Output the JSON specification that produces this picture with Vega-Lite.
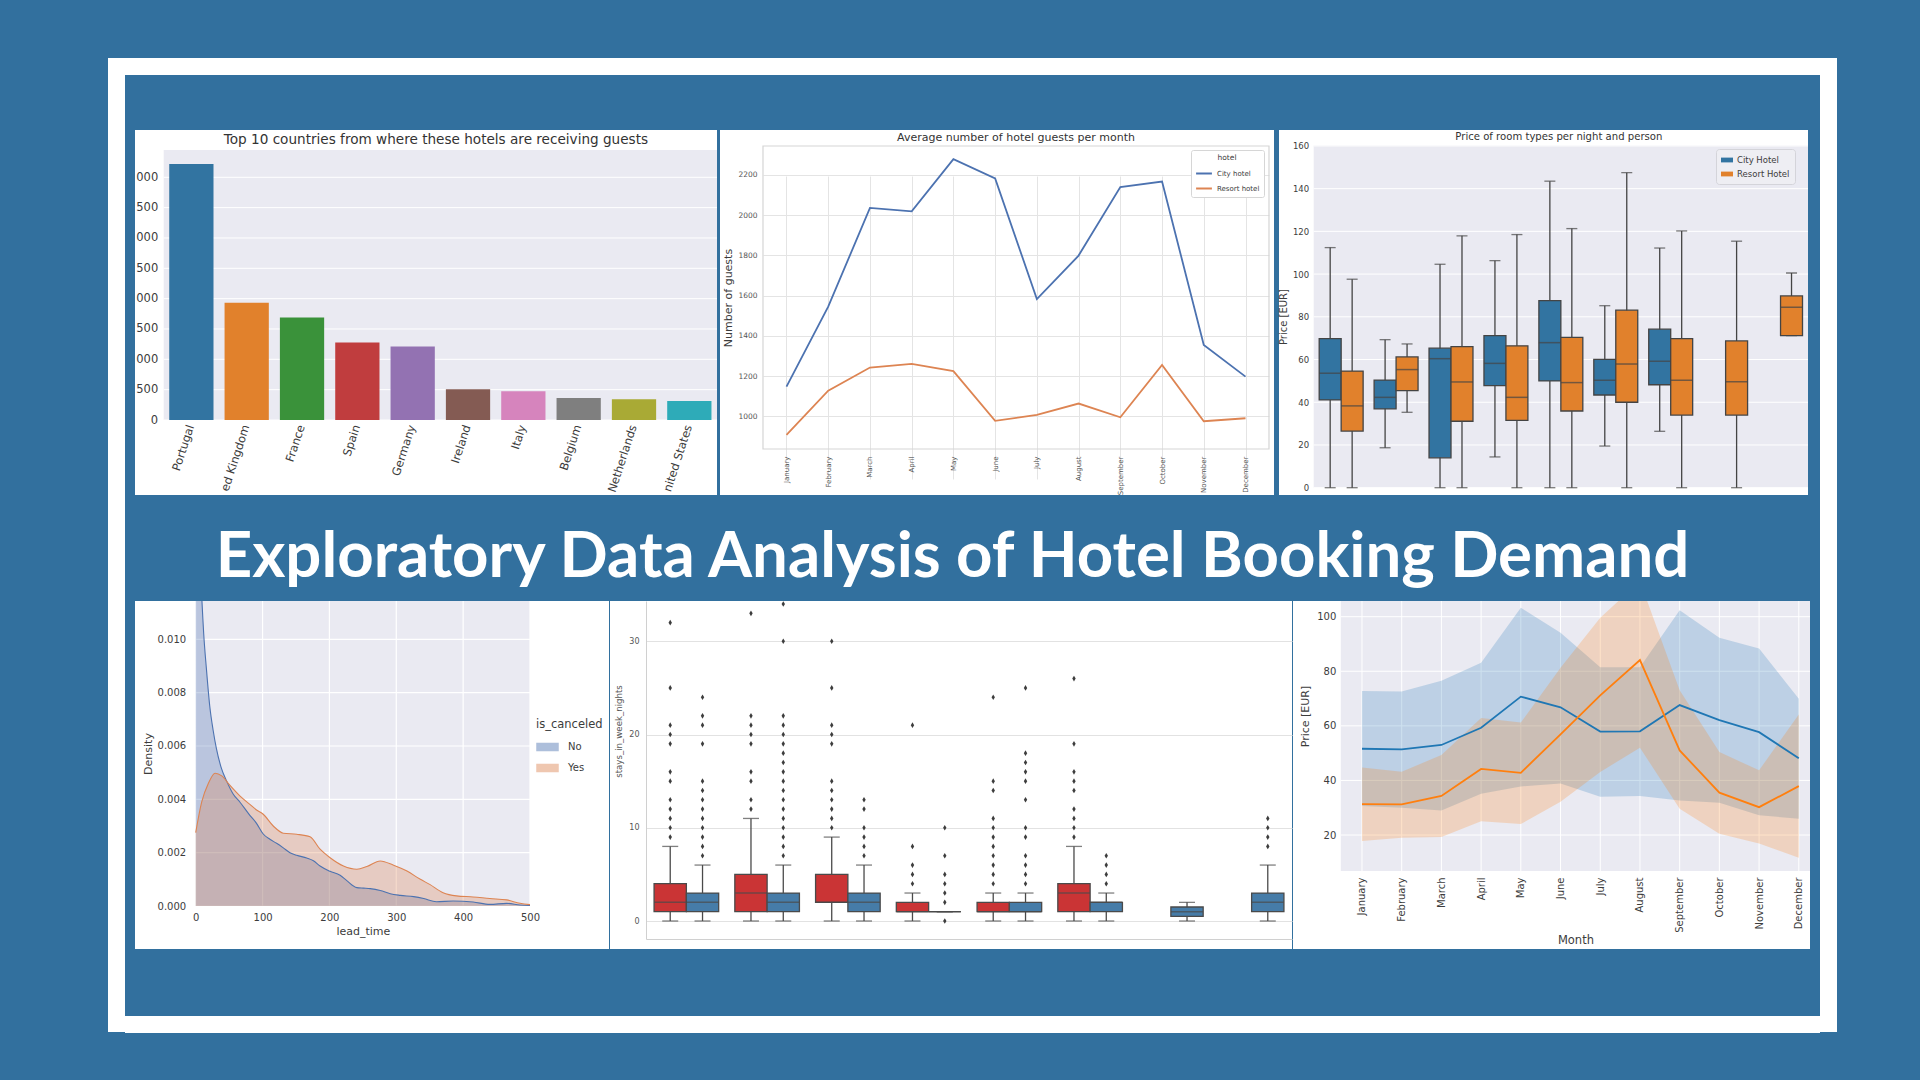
{
"$schema": "https://vega.github.io/schema/vega-lite/v6.json",
"background": "#32709e",
"padding": {"left": 108, "top": 58, "right": 83, "bottom": 48},
"spacing": 0,
"resolve": {"scale": {"color": "independent", "xOffset": "independent"}},
"hconcat": [
 {"width": 17, "height": 974, "data": {"values": []}, "mark": "point", "view": {"fill": "white"}},
 {"spacing": 0,
  "resolve": {"scale": {"color": "independent", "xOffset": "independent"}},
  "vconcat": [
  {"width": 1695, "height": 17, "data": {"values": []}, "mark": "point", "view": {"fill": "white"}},
  {"width": 1695, "height": 55, "data": {"values": []}, "mark": "point"},
  {"spacing": 0,
   "resolve": {"scale": {"color": "independent", "xOffset": "independent"}},
   "hconcat": [
   {"width": 10, "height": 365, "data": {"values": []}, "mark": "point"},
   {
    "width": 582, "height": 365,
    "view": {"fill": "white"},
    "resolve": {"scale": {"x": "independent", "y": "independent"}},
    "layer": [
     {"data": {"values": [{"a": 0, "b": 1}]}, "mark": {"type": "rect", "color": "#eaeaf2"},
      "encoding": {"x": {"field": "a", "type": "quantitative", "scale": {"domain": [0, 1], "range": [28.7, 582]}, "axis": null}, "x2": {"field": "b"},
                   "y": {"field": "a", "type": "quantitative", "scale": {"domain": [0, 1], "range": [290, 20]}, "axis": null}, "y2": {"field": "b"}}},
     {"data": {"values": [{"title": "Top 10 countries from where these hotels are receiving guests"}]},
      "mark": {"type": "text", "fontSize": 13.6, "baseline": "bottom", "font": "DejaVu Sans", "color": "#333333"},
      "encoding": {"text": {"field": "title"},
                   "x": {"datum": 0.492, "type": "quantitative", "scale": {"domain": [0, 1], "range": [28.7, 582]}, "axis": null},
                   "y": {"datum": 1.01, "type": "quantitative", "scale": {"domain": [0, 1], "range": [290, 20]}, "axis": null}}},
     {"data": {"values": [{"v": 0}, {"v": 500}, {"v": 1000}, {"v": 1500}, {"v": 2000}, {"v": 2500}, {"v": 3000}, {"v": 3500}, {"v": 4000}]},
      "mark": {"type": "rule", "color": "white", "strokeWidth": 1},
      "encoding": {"y": {"field": "v", "type": "quantitative", "scale": {"domain": [0, 4450], "range": [290, 20], "nice": false, "zero": false}, "axis": null},
                   "x": {"datum": 0, "type": "quantitative", "scale": {"domain": [0, 1], "range": [28.7, 582]}, "axis": null}, "x2": {"datum": 1}}},
     {"data": {"values": [
        {"country": "Portugal", "guests": 4220}, {"country": "United Kingdom", "guests": 1934}, {"country": "France", "guests": 1691},
        {"country": "Spain", "guests": 1278}, {"country": "Germany", "guests": 1212}, {"country": "Ireland", "guests": 507},
        {"country": "Italy", "guests": 474}, {"country": "Belgium", "guests": 364}, {"country": "Netherlands", "guests": 342},
        {"country": "United States", "guests": 314}]},
      "mark": {"type": "bar"},
      "encoding": {
       "x": {"field": "country", "type": "nominal", "sort": null,
             "scale": {"range": [28.7, 582], "paddingInner": 0.2, "paddingOuter": 0.1},
             "axis": {"orient": "bottom", "title": null, "labelAngle": -72, "labelFontSize": 11.5, "offset": -75, "labelPadding": 5, "grid": false,
                      "labelExpr": "datum.label == 'United Kingdom' ? 'ed Kingdom' : datum.label == 'United States' ? 'nited States' : datum.label"}},
       "y": {"field": "guests", "type": "quantitative", "scale": {"domain": [0, 4450], "range": [290, 20], "nice": false},
             "axis": {"orient": "left", "title": null, "values": [0, 500, 1000, 1500, 2000, 2500, 3000, 3500, 4000], "format": "d", "offset": -28.7, "labelPadding": 6, "labelFontSize": 11.5, "grid": false,
                      "labelExpr": "datum.value >= 1000 ? substring(datum.label, 1) : datum.label"}},
       "color": {"field": "country", "type": "nominal", "sort": null,
                 "scale": {"domain": ["Portugal", "United Kingdom", "France", "Spain", "Germany", "Ireland", "Italy", "Belgium", "Netherlands", "United States"],
                           "range": ["#3274a1", "#e1812c", "#3a923a", "#c03d3e", "#9372b2", "#845b53", "#d684bd", "#7f7f7f", "#a9aa35", "#2eabb8"]},
                 "legend": null}
      }}
    ]
   },
   {"width": 2, "height": 365, "data": {"values": []}, "mark": "point"},
   {
    "width": 554, "height": 365,
    "view": {"fill": "white"},
    "resolve": {"scale": {"x": "independent", "y": "independent"}},
    "layer": [
     {"data": {"values": [{"a": 0, "b": 1}]}, "mark": {"type": "rect", "filled": false, "stroke": "#d5d5d5", "strokeWidth": 1.2},
      "encoding": {"x": {"field": "a", "type": "quantitative", "scale": {"domain": [0, 1], "range": [43, 549]}, "axis": null}, "x2": {"field": "b"},
                   "y": {"field": "a", "type": "quantitative", "scale": {"domain": [0, 1], "range": [319, 16]}, "axis": null}, "y2": {"field": "b"}}},
     {"data": {"values": [{"title": "Average number of hotel guests per month"}]},
      "mark": {"type": "text", "fontSize": 11, "baseline": "bottom", "font": "DejaVu Sans", "color": "#333333"},
      "encoding": {"text": {"field": "title"},
                   "x": {"datum": 0.5, "type": "quantitative", "scale": {"domain": [0, 1], "range": [43, 549]}, "axis": null},
                   "y": {"datum": 1.0099, "type": "quantitative", "scale": {"domain": [0, 1], "range": [319, 16]}, "axis": null}}},
     {"data": {"values": [
        {"month": "January", "hotel": "City hotel", "guests": 1147}, {"month": "February", "hotel": "City hotel", "guests": 1545},
        {"month": "March", "hotel": "City hotel", "guests": 2036}, {"month": "April", "hotel": "City hotel", "guests": 2019},
        {"month": "May", "hotel": "City hotel", "guests": 2279}, {"month": "June", "hotel": "City hotel", "guests": 2183},
        {"month": "July", "hotel": "City hotel", "guests": 1583}, {"month": "August", "hotel": "City hotel", "guests": 1799},
        {"month": "September", "hotel": "City hotel", "guests": 2140}, {"month": "October", "hotel": "City hotel", "guests": 2167},
        {"month": "November", "hotel": "City hotel", "guests": 1355}, {"month": "December", "hotel": "City hotel", "guests": 1197},
        {"month": "January", "hotel": "Resort hotel", "guests": 907}, {"month": "February", "hotel": "Resort hotel", "guests": 1127},
        {"month": "March", "hotel": "Resort hotel", "guests": 1242}, {"month": "April", "hotel": "Resort hotel", "guests": 1260},
        {"month": "May", "hotel": "Resort hotel", "guests": 1224}, {"month": "June", "hotel": "Resort hotel", "guests": 977},
        {"month": "July", "hotel": "Resort hotel", "guests": 1007}, {"month": "August", "hotel": "Resort hotel", "guests": 1063},
        {"month": "September", "hotel": "Resort hotel", "guests": 995}, {"month": "October", "hotel": "Resort hotel", "guests": 1255},
        {"month": "November", "hotel": "Resort hotel", "guests": 975}, {"month": "December", "hotel": "Resort hotel", "guests": 990}]},
      "mark": {"type": "line", "strokeWidth": 1.8},
      "encoding": {
       "x": {"field": "month", "type": "ordinal", "sort": ["January", "February", "March", "April", "May", "June", "July", "August", "September", "October", "November", "December"],
             "scale": {"type": "point", "range": [43, 549], "padding": 0.563},
             "axis": {"orient": "bottom", "title": null, "labelAngle": -90, "labelFontSize": 7, "offset": -46, "labelPadding": 7, "grid": true, "gridColor": "#e4e4e4", "labelColor": "#555555"}},
       "y": {"field": "guests", "type": "quantitative", "scale": {"domain": [837, 2344], "range": [319, 16], "nice": false, "zero": false},
             "axis": {"orient": "left", "title": "Number of guests", "titleFontSize": 11, "titlePadding": 4, "values": [1000, 1200, 1400, 1600, 1800, 2000, 2200], "format": "d", "labelFontSize": 7.5, "offset": -43, "labelPadding": 6, "grid": true, "gridColor": "#e4e4e4", "labelColor": "#555555"}},
       "color": {"field": "hotel", "type": "nominal", "scale": {"domain": ["City hotel", "Resort hotel"], "range": ["#4c72b0", "#dd8452"]},
                 "legend": {"orient": "none", "legendX": 471, "legendY": 20, "title": "hotel", "titleFontSize": 7.5, "titleAnchor": "middle", "labelFontSize": 7, "symbolType": "stroke", "symbolSize": 250, "symbolStrokeWidth": 2, "fillColor": "white", "strokeColor": "#d6d6d6", "padding": 4, "cornerRadius": 2, "rowPadding": 2, "titlePadding": 3}}
      }}
    ]
   },
   {"width": 4, "height": 365, "data": {"values": []}, "mark": "point"},
   {
    "width": 529, "height": 365,
    "view": {"fill": "white"},
    "resolve": {"scale": {"x": "independent", "y": "independent"}},
    "layer": [
     {"data": {"values": [{"a": 0, "b": 1}]}, "mark": {"type": "rect", "color": "#eaeaf2"},
      "encoding": {"x": {"field": "a", "type": "quantitative", "scale": {"domain": [0, 1], "range": [34.7, 529]}, "axis": null}, "x2": {"field": "b"},
                   "y": {"field": "a", "type": "quantitative", "scale": {"domain": [0, 1], "range": [357.7, 15.5]}, "axis": null}, "y2": {"field": "b"}}},
     {"data": {"values": [{"title": "Price of room types per night and person"}]},
      "mark": {"type": "text", "fontSize": 10.1, "baseline": "bottom", "font": "DejaVu Sans", "color": "#333333"},
      "encoding": {"text": {"field": "title"},
                   "x": {"datum": 0.496, "type": "quantitative", "scale": {"domain": [0, 1], "range": [34.7, 529]}, "axis": null},
                   "y": {"datum": 1.0102, "type": "quantitative", "scale": {"domain": [0, 1], "range": [357.7, 15.5]}, "axis": null}}},
     {"data": {"values": [{"v": 0}, {"v": 20}, {"v": 40}, {"v": 60}, {"v": 80}, {"v": 100}, {"v": 120}, {"v": 140}, {"v": 160}]},
      "mark": {"type": "rule", "color": "white", "strokeWidth": 1},
      "encoding": {"y": {"field": "v", "type": "quantitative", "scale": {"domain": [0, 160.2], "range": [357.7, 15.5], "nice": false, "zero": false}, "axis": null},
                   "x": {"datum": 0, "type": "quantitative", "scale": {"domain": [0, 1], "range": [34.7, 529]}, "axis": null}, "x2": {"datum": 1}}},
     {"data": {"values": [
        {"room": "A", "hotel": "City Hotel", "lower": 0, "q1": 41.1, "median": 53.6, "q3": 69.8, "upper": 112.4},
        {"room": "A", "hotel": "Resort Hotel", "lower": 0, "q1": 26.5, "median": 38.3, "q3": 54.6, "upper": 97.6},
        {"room": "B", "hotel": "City Hotel", "lower": 18.7, "q1": 36.9, "median": 42.3, "q3": 50.4, "upper": 69.3},
        {"room": "B", "hotel": "Resort Hotel", "lower": 35.3, "q1": 45.4, "median": 55.3, "q3": 61.2, "upper": 67.3},
        {"room": "C", "hotel": "City Hotel", "lower": 0, "q1": 14.0, "median": 60.4, "q3": 65.3, "upper": 104.6},
        {"room": "C", "hotel": "Resort Hotel", "lower": 0, "q1": 31.1, "median": 49.5, "q3": 66.0, "upper": 117.9},
        {"room": "D", "hotel": "City Hotel", "lower": 14.4, "q1": 47.8, "median": 58.2, "q3": 71.2, "upper": 106.3},
        {"room": "D", "hotel": "Resort Hotel", "lower": 0, "q1": 31.5, "median": 42.3, "q3": 66.4, "upper": 118.5},
        {"room": "E", "hotel": "City Hotel", "lower": 0, "q1": 50.0, "median": 67.9, "q3": 87.6, "upper": 143.5},
        {"room": "E", "hotel": "Resort Hotel", "lower": 0, "q1": 35.9, "median": 49.2, "q3": 70.4, "upper": 121.3},
        {"room": "F", "hotel": "City Hotel", "lower": 19.5, "q1": 43.4, "median": 50.3, "q3": 60.1, "upper": 85.2},
        {"room": "F", "hotel": "Resort Hotel", "lower": 0, "q1": 40.0, "median": 57.9, "q3": 83.1, "upper": 147.5},
        {"room": "G", "hotel": "City Hotel", "lower": 26.4, "q1": 48.2, "median": 59.2, "q3": 74.2, "upper": 112.2},
        {"room": "G", "hotel": "Resort Hotel", "lower": 0, "q1": 34.0, "median": 50.3, "q3": 69.8, "upper": 120.2},
        {"room": "H", "hotel": "Resort Hotel", "lower": 0, "q1": 34.0, "median": 49.6, "q3": 68.7, "upper": 115.4},
        {"room": "L", "hotel": "Resort Hotel", "lower": 71.2, "q1": 71.2, "median": 84.5, "q3": 89.8, "upper": 100.5}]},
      "layer": [
       {"mark": {"type": "rule", "color": "#444444", "strokeWidth": 1.3},
        "encoding": {
         "x": {"field": "room", "type": "nominal", "scale": {"domain": ["A", "B", "C", "D", "E", "F", "G", "H", "L"], "range": [34.7, 529], "paddingInner": 0, "paddingOuter": 0}, "axis": null},
         "xOffset": {"field": "hotel", "scale": {"domain": ["City Hotel", "Resort Hotel"], "paddingInner": 0, "paddingOuter": 0.25}},
         "y": {"field": "lower", "type": "quantitative", "title": "Price [EUR]", "scale": {"domain": [0, 160.2], "range": [357.7, 15.5], "nice": false},
               "axis": {"orient": "left", "title": "Price [EUR]", "titleFontSize": 10, "titlePadding": 4, "values": [0, 20, 40, 60, 80, 100, 120, 140, 160], "labelFontSize": 8.5, "offset": -34.7, "labelPadding": 5, "grid": false}},
         "y2": {"field": "upper"}}},
       {"mark": {"type": "tick", "color": "#444444", "thickness": 1.3, "size": 11},
        "encoding": {
         "x": {"field": "room", "type": "nominal", "scale": {"domain": ["A", "B", "C", "D", "E", "F", "G", "H", "L"], "range": [34.7, 529], "paddingInner": 0, "paddingOuter": 0}, "axis": null},
         "xOffset": {"field": "hotel", "scale": {"domain": ["City Hotel", "Resort Hotel"], "paddingInner": 0, "paddingOuter": 0.25}},
         "y": {"field": "upper", "type": "quantitative", "title": "Price [EUR]", "scale": {"domain": [0, 160.2], "range": [357.7, 15.5], "nice": false},
               "axis": {"orient": "left", "title": "Price [EUR]", "titleFontSize": 10, "titlePadding": 4, "values": [0, 20, 40, 60, 80, 100, 120, 140, 160], "labelFontSize": 8.5, "offset": -34.7, "labelPadding": 5, "grid": false}}}},
       {"mark": {"type": "tick", "color": "#444444", "thickness": 1.3, "size": 11},
        "encoding": {
         "x": {"field": "room", "type": "nominal", "scale": {"domain": ["A", "B", "C", "D", "E", "F", "G", "H", "L"], "range": [34.7, 529], "paddingInner": 0, "paddingOuter": 0}, "axis": null},
         "xOffset": {"field": "hotel", "scale": {"domain": ["City Hotel", "Resort Hotel"], "paddingInner": 0, "paddingOuter": 0.25}},
         "y": {"field": "lower", "type": "quantitative", "title": "Price [EUR]", "scale": {"domain": [0, 160.2], "range": [357.7, 15.5], "nice": false},
               "axis": {"orient": "left", "title": "Price [EUR]", "titleFontSize": 10, "titlePadding": 4, "values": [0, 20, 40, 60, 80, 100, 120, 140, 160], "labelFontSize": 8.5, "offset": -34.7, "labelPadding": 5, "grid": false}}}},
       {"mark": {"type": "bar", "stroke": "#444444", "strokeWidth": 1.3},
        "encoding": {
         "x": {"field": "room", "type": "nominal", "scale": {"domain": ["A", "B", "C", "D", "E", "F", "G", "H", "L"], "range": [34.7, 529], "paddingInner": 0, "paddingOuter": 0}, "axis": null},
         "xOffset": {"field": "hotel", "scale": {"domain": ["City Hotel", "Resort Hotel"], "paddingInner": 0, "paddingOuter": 0.25}},
         "y": {"field": "q1", "type": "quantitative", "title": "Price [EUR]", "scale": {"domain": [0, 160.2], "range": [357.7, 15.5], "nice": false},
               "axis": {"orient": "left", "title": "Price [EUR]", "titleFontSize": 10, "titlePadding": 4, "values": [0, 20, 40, 60, 80, 100, 120, 140, 160], "labelFontSize": 8.5, "offset": -34.7, "labelPadding": 5, "grid": false}},
         "y2": {"field": "q3"},
         "color": {"field": "hotel", "type": "nominal", "scale": {"domain": ["City Hotel", "Resort Hotel"], "range": ["#3274a1", "#e1812c"]},
                   "legend": {"orient": "none", "legendX": 437, "legendY": 19, "title": null, "labelFontSize": 8.5, "symbolType": "M-1,-0.4H1V0.4H-1Z", "symbolSize": 144, "symbolStrokeWidth": 0, "fillColor": "#eeeef3", "strokeColor": "#d4d4da", "padding": 5, "cornerRadius": 3, "rowPadding": 3}}}},
       {"mark": {"type": "tick", "color": "#444444", "thickness": 1.5, "size": 22},
        "encoding": {
         "x": {"field": "room", "type": "nominal", "scale": {"domain": ["A", "B", "C", "D", "E", "F", "G", "H", "L"], "range": [34.7, 529], "paddingInner": 0, "paddingOuter": 0}, "axis": null},
         "xOffset": {"field": "hotel", "scale": {"domain": ["City Hotel", "Resort Hotel"], "paddingInner": 0, "paddingOuter": 0.25}},
         "y": {"field": "median", "type": "quantitative", "title": "Price [EUR]", "scale": {"domain": [0, 160.2], "range": [357.7, 15.5], "nice": false},
               "axis": {"orient": "left", "title": "Price [EUR]", "titleFontSize": 10, "titlePadding": 4, "values": [0, 20, 40, 60, 80, 100, 120, 140, 160], "labelFontSize": 8.5, "offset": -34.7, "labelPadding": 5, "grid": false}}}}
      ]}
    ]
   },
   {"width": 11, "height": 365, "data": {"values": []}, "mark": "point"}
  ]},
  {"width": 1695, "height": 105, "data": {"values": [{"t": "Exploratory Data Analysis of Hotel Booking Demand"}]},
   "mark": {"type": "text", "font": "Lato", "fontWeight": "bold", "fontSize": 63.5, "color": "white", "baseline": "alphabetic", "dx": -20, "dy": 29},
   "encoding": {"text": {"field": "t"}}},
  {"spacing": 0,
   "resolve": {"scale": {"color": "independent", "xOffset": "independent"}},
   "hconcat": [
   {"width": 10, "height": 348, "data": {"values": []}, "mark": "point"},
   {
    "width": 474, "height": 348,
    "view": {"fill": "white"},
    "resolve": {"scale": {"x": "independent", "y": "independent"}},
    "layer": [
     {"data": {"values": [{"a": 0, "b": 1}]}, "mark": {"type": "rect", "color": "#eaeaf2"},
      "encoding": {"x": {"field": "a", "type": "quantitative", "scale": {"domain": [0, 1], "range": [60.7, 395]}, "axis": null}, "x2": {"field": "b"},
                   "y": {"field": "a", "type": "quantitative", "scale": {"domain": [0, 1], "range": [305, 0]}, "axis": null}, "y2": {"field": "b"}}},
     {"data": {"values": [{"v": 0}, {"v": 100}, {"v": 200}, {"v": 300}, {"v": 400}, {"v": 500}]},
      "mark": {"type": "rule", "color": "white", "strokeWidth": 1.2},
      "encoding": {"x": {"field": "v", "type": "quantitative", "scale": {"domain": [0, 500], "range": [60.7, 395], "nice": false, "zero": false}, "axis": null},
                   "y": {"datum": 0, "type": "quantitative", "scale": {"domain": [0, 1], "range": [305, 0]}, "axis": null}, "y2": {"datum": 1}}},
     {"data": {"values": [{"v": 0}, {"v": 0.002}, {"v": 0.004}, {"v": 0.006}, {"v": 0.008}, {"v": 0.01}]},
      "mark": {"type": "rule", "color": "white", "strokeWidth": 1.2},
      "encoding": {"y": {"field": "v", "type": "quantitative", "scale": {"domain": [0, 0.011436], "range": [305, 0], "nice": false, "zero": false}, "axis": null},
                   "x": {"datum": 0, "type": "quantitative", "scale": {"domain": [0, 1], "range": [60.7, 395]}, "axis": null}, "x2": {"datum": 1}}},
     {"data": {"values": [
        {"is_canceled": "No", "lead_time": 0, "density": 0.018}, {"is_canceled": "No", "lead_time": 4, "density": 0.015},
        {"is_canceled": "No", "lead_time": 8, "density": 0.0122}, {"is_canceled": "No", "lead_time": 12, "density": 0.0102},
        {"is_canceled": "No", "lead_time": 16, "density": 0.0089}, {"is_canceled": "No", "lead_time": 21, "density": 0.0075},
        {"is_canceled": "No", "lead_time": 26, "density": 0.0066}, {"is_canceled": "No", "lead_time": 31, "density": 0.0059},
        {"is_canceled": "No", "lead_time": 38, "density": 0.0052}, {"is_canceled": "No", "lead_time": 46, "density": 0.0047},
        {"is_canceled": "No", "lead_time": 56, "density": 0.0042}, {"is_canceled": "No", "lead_time": 66, "density": 0.0039},
        {"is_canceled": "No", "lead_time": 81, "density": 0.0034}, {"is_canceled": "No", "lead_time": 91, "density": 0.0031},
        {"is_canceled": "No", "lead_time": 101, "density": 0.0027}, {"is_canceled": "No", "lead_time": 111, "density": 0.0025},
        {"is_canceled": "No", "lead_time": 121, "density": 0.00235}, {"is_canceled": "No", "lead_time": 131, "density": 0.00218},
        {"is_canceled": "No", "lead_time": 141, "density": 0.002}, {"is_canceled": "No", "lead_time": 151, "density": 0.0019},
        {"is_canceled": "No", "lead_time": 166, "density": 0.0018}, {"is_canceled": "No", "lead_time": 176, "density": 0.0017},
        {"is_canceled": "No", "lead_time": 186, "density": 0.0015}, {"is_canceled": "No", "lead_time": 201, "density": 0.0013},
        {"is_canceled": "No", "lead_time": 216, "density": 0.00115}, {"is_canceled": "No", "lead_time": 226, "density": 0.00095},
        {"is_canceled": "No", "lead_time": 241, "density": 0.00069}, {"is_canceled": "No", "lead_time": 251, "density": 0.00067},
        {"is_canceled": "No", "lead_time": 261, "density": 0.00065}, {"is_canceled": "No", "lead_time": 276, "density": 0.00058},
        {"is_canceled": "No", "lead_time": 291, "density": 0.00046}, {"is_canceled": "No", "lead_time": 306, "density": 0.0004},
        {"is_canceled": "No", "lead_time": 326, "density": 0.00035}, {"is_canceled": "No", "lead_time": 341, "density": 0.00028},
        {"is_canceled": "No", "lead_time": 360, "density": 0.00016}, {"is_canceled": "No", "lead_time": 385, "density": 0.00019},
        {"is_canceled": "No", "lead_time": 415, "density": 0.00015}, {"is_canceled": "No", "lead_time": 440, "density": 0.00006},
        {"is_canceled": "No", "lead_time": 465, "density": 0.0001}, {"is_canceled": "No", "lead_time": 485, "density": 0.00004},
        {"is_canceled": "No", "lead_time": 500, "density": 0.00002},
        {"is_canceled": "Yes", "lead_time": 0, "density": 0.00275}, {"is_canceled": "Yes", "lead_time": 9, "density": 0.0039},
        {"is_canceled": "Yes", "lead_time": 19, "density": 0.0046}, {"is_canceled": "Yes", "lead_time": 29, "density": 0.00498},
        {"is_canceled": "Yes", "lead_time": 39, "density": 0.00488}, {"is_canceled": "Yes", "lead_time": 51, "density": 0.00453},
        {"is_canceled": "Yes", "lead_time": 66, "density": 0.00413}, {"is_canceled": "Yes", "lead_time": 81, "density": 0.00381},
        {"is_canceled": "Yes", "lead_time": 91, "density": 0.0036}, {"is_canceled": "Yes", "lead_time": 101, "density": 0.00344},
        {"is_canceled": "Yes", "lead_time": 116, "density": 0.003}, {"is_canceled": "Yes", "lead_time": 131, "density": 0.00273},
        {"is_canceled": "Yes", "lead_time": 151, "density": 0.00269}, {"is_canceled": "Yes", "lead_time": 171, "density": 0.0026},
        {"is_canceled": "Yes", "lead_time": 186, "density": 0.00213}, {"is_canceled": "Yes", "lead_time": 201, "density": 0.00181},
        {"is_canceled": "Yes", "lead_time": 221, "density": 0.0015}, {"is_canceled": "Yes", "lead_time": 241, "density": 0.00138},
        {"is_canceled": "Yes", "lead_time": 256, "density": 0.00148}, {"is_canceled": "Yes", "lead_time": 276, "density": 0.00169},
        {"is_canceled": "Yes", "lead_time": 296, "density": 0.00153}, {"is_canceled": "Yes", "lead_time": 316, "density": 0.00131},
        {"is_canceled": "Yes", "lead_time": 336, "density": 0.001}, {"is_canceled": "Yes", "lead_time": 350, "density": 0.00081},
        {"is_canceled": "Yes", "lead_time": 370, "density": 0.0005}, {"is_canceled": "Yes", "lead_time": 390, "density": 0.00038},
        {"is_canceled": "Yes", "lead_time": 415, "density": 0.00034}, {"is_canceled": "Yes", "lead_time": 440, "density": 0.00028},
        {"is_canceled": "Yes", "lead_time": 465, "density": 0.00023}, {"is_canceled": "Yes", "lead_time": 485, "density": 0.0001},
        {"is_canceled": "Yes", "lead_time": 500, "density": 0.00005}]},
      "layer": [
       {"mark": {"type": "area", "fillOpacity": 0.3, "clip": true, "interpolate": "monotone"},
        "encoding": {
         "x": {"field": "lead_time", "type": "quantitative", "scale": {"domain": [0, 500], "range": [60.7, 395], "nice": false, "zero": false},
               "axis": {"orient": "bottom", "title": "lead_time", "titleFontSize": 11, "titlePadding": 3, "values": [0, 100, 200, 300, 400, 500], "labelFontSize": 10, "offset": -43, "labelPadding": 6, "grid": false}},
         "y": {"field": "density", "type": "quantitative", "stack": null, "scale": {"domain": [0, 0.011436], "range": [305, 0], "nice": false},
               "axis": {"orient": "left", "title": "Density", "titleFontSize": 11, "titlePadding": 4, "values": [0, 0.002, 0.004, 0.006, 0.008, 0.01], "format": ".3f", "labelFontSize": 10, "offset": -60.7, "labelPadding": 10, "grid": false}},
         "color": {"field": "is_canceled", "type": "nominal", "scale": {"domain": ["No", "Yes"], "range": ["#4c72b0", "#dd8452"]},
                   "legend": {"orient": "none", "legendX": 401, "legendY": 118, "title": "is_canceled", "titleFontSize": 11.5, "labelFontSize": 10, "symbolType": "M-1,-0.33H1V0.33H-1Z", "symbolSize": 441, "symbolOpacity": 0.45, "labelOffset": 9, "rowPadding": 3}}}},
       {"mark": {"type": "line", "strokeWidth": 1.1, "clip": true, "interpolate": "monotone"},
        "encoding": {
         "x": {"field": "lead_time", "type": "quantitative", "scale": {"domain": [0, 500], "range": [60.7, 395], "nice": false, "zero": false},
               "axis": {"orient": "bottom", "title": "lead_time", "titleFontSize": 11, "titlePadding": 3, "values": [0, 100, 200, 300, 400, 500], "labelFontSize": 10, "offset": -43, "labelPadding": 6, "grid": false}},
         "y": {"field": "density", "type": "quantitative", "stack": null, "scale": {"domain": [0, 0.011436], "range": [305, 0], "nice": false},
               "axis": {"orient": "left", "title": "Density", "titleFontSize": 11, "titlePadding": 4, "values": [0, 0.002, 0.004, 0.006, 0.008, 0.01], "format": ".3f", "labelFontSize": 10, "offset": -60.7, "labelPadding": 10, "grid": false}},
         "color": {"field": "is_canceled", "type": "nominal", "scale": {"domain": ["No", "Yes"], "range": ["#4c72b0", "#dd8452"]},
                   "legend": {"orient": "none", "legendX": 401, "legendY": 118, "title": "is_canceled", "titleFontSize": 11.5, "labelFontSize": 10, "symbolType": "M-1,-0.33H1V0.33H-1Z", "symbolSize": 441, "symbolOpacity": 0.45, "labelOffset": 9, "rowPadding": 3}}}}
      ]}
    ]
   },
   {"width": 1, "height": 348, "data": {"values": []}, "mark": "point"},
   {
    "width": 682, "height": 348,
    "view": {"fill": "white"},
    "layer": [
     {"data": {"values": [
        {"segment": "Direct", "hotel": "Resort Hotel", "lower": 0, "q1": 1, "median": 2, "q3": 4, "upper": 8},
        {"segment": "Direct", "hotel": "City Hotel", "lower": 0, "q1": 1, "median": 2, "q3": 3, "upper": 6},
        {"segment": "Online TA", "hotel": "Resort Hotel", "lower": 0, "q1": 1, "median": 3, "q3": 5, "upper": 11},
        {"segment": "Online TA", "hotel": "City Hotel", "lower": 0, "q1": 1, "median": 2, "q3": 3, "upper": 6},
        {"segment": "Offline TA/TO", "hotel": "Resort Hotel", "lower": 0, "q1": 2, "median": 2, "q3": 5, "upper": 9},
        {"segment": "Offline TA/TO", "hotel": "City Hotel", "lower": 0, "q1": 1, "median": 2, "q3": 3, "upper": 6},
        {"segment": "Complementary", "hotel": "Resort Hotel", "lower": 0, "q1": 1, "median": 1, "q3": 2, "upper": 3},
        {"segment": "Complementary", "hotel": "City Hotel", "lower": 1, "q1": 1, "median": 1, "q3": 1, "upper": 1},
        {"segment": "Corporate", "hotel": "Resort Hotel", "lower": 0, "q1": 1, "median": 1, "q3": 2, "upper": 3},
        {"segment": "Corporate", "hotel": "City Hotel", "lower": 0, "q1": 1, "median": 1, "q3": 2, "upper": 3},
        {"segment": "Groups", "hotel": "Resort Hotel", "lower": 0, "q1": 1, "median": 3, "q3": 4, "upper": 8},
        {"segment": "Groups", "hotel": "City Hotel", "lower": 0, "q1": 1, "median": 2, "q3": 2, "upper": 3},
        {"segment": "Undefined", "hotel": "City Hotel", "lower": 0, "q1": 0.5, "median": 1, "q3": 1.5, "upper": 2},
        {"segment": "Aviation", "hotel": "City Hotel", "lower": 0, "q1": 1, "median": 2, "q3": 3, "upper": 6}]},
      "layer": [
       {"mark": {"type": "rule", "color": "#4a4a4a", "strokeWidth": 1.3},
        "encoding": {
         "x": {"field": "segment", "type": "nominal", "scale": {"domain": ["Direct", "Online TA", "Offline TA/TO", "Complementary", "Corporate", "Groups", "Undefined", "Aviation"], "range": [36, 682], "paddingInner": 0, "paddingOuter": 0},
               "axis": {"orient": "bottom", "title": null, "labels": false, "domain": true, "domainColor": "#d0d0d0", "offset": -10, "grid": false}},
         "xOffset": {"field": "hotel", "scale": {"domain": ["Resort Hotel", "City Hotel"], "paddingInner": 0, "paddingOuter": 0.25}},
         "y": {"field": "lower", "type": "quantitative", "title": "stays_in_week_nights", "scale": {"domain": [-1.93, 34.32], "range": [338, 0], "nice": false, "zero": false},
               "axis": {"orient": "left", "title": "stays_in_week_nights", "titleFontSize": 8.6, "titlePadding": 5, "titleY": 130, "values": [0, 10, 20, 30], "labelFontSize": 8, "offset": -36, "labelPadding": 7, "grid": true, "gridColor": "#e2e2e2", "domain": true, "domainColor": "#d0d0d0", "labelColor": "#555555", "titleColor": "#555555"}},
         "y2": {"field": "upper"}}},
       {"mark": {"type": "tick", "color": "#4a4a4a", "thickness": 1.3, "size": 16},
        "encoding": {
         "x": {"field": "segment", "type": "nominal", "scale": {"domain": ["Direct", "Online TA", "Offline TA/TO", "Complementary", "Corporate", "Groups", "Undefined", "Aviation"], "range": [36, 682], "paddingInner": 0, "paddingOuter": 0},
               "axis": {"orient": "bottom", "title": null, "labels": false, "domain": true, "domainColor": "#d0d0d0", "offset": -10, "grid": false}},
         "xOffset": {"field": "hotel", "scale": {"domain": ["Resort Hotel", "City Hotel"], "paddingInner": 0, "paddingOuter": 0.25}},
         "y": {"field": "upper", "type": "quantitative", "title": "stays_in_week_nights", "scale": {"domain": [-1.93, 34.32], "range": [338, 0], "nice": false, "zero": false},
               "axis": {"orient": "left", "title": "stays_in_week_nights", "titleFontSize": 8.6, "titlePadding": 5, "titleY": 130, "values": [0, 10, 20, 30], "labelFontSize": 8, "offset": -36, "labelPadding": 7, "grid": true, "gridColor": "#e2e2e2", "domain": true, "domainColor": "#d0d0d0", "labelColor": "#555555", "titleColor": "#555555"}}}},
       {"mark": {"type": "tick", "color": "#4a4a4a", "thickness": 1.3, "size": 16},
        "encoding": {
         "x": {"field": "segment", "type": "nominal", "scale": {"domain": ["Direct", "Online TA", "Offline TA/TO", "Complementary", "Corporate", "Groups", "Undefined", "Aviation"], "range": [36, 682], "paddingInner": 0, "paddingOuter": 0},
               "axis": {"orient": "bottom", "title": null, "labels": false, "domain": true, "domainColor": "#d0d0d0", "offset": -10, "grid": false}},
         "xOffset": {"field": "hotel", "scale": {"domain": ["Resort Hotel", "City Hotel"], "paddingInner": 0, "paddingOuter": 0.25}},
         "y": {"field": "lower", "type": "quantitative", "title": "stays_in_week_nights", "scale": {"domain": [-1.93, 34.32], "range": [338, 0], "nice": false, "zero": false},
               "axis": {"orient": "left", "title": "stays_in_week_nights", "titleFontSize": 8.6, "titlePadding": 5, "titleY": 130, "values": [0, 10, 20, 30], "labelFontSize": 8, "offset": -36, "labelPadding": 7, "grid": true, "gridColor": "#e2e2e2", "domain": true, "domainColor": "#d0d0d0", "labelColor": "#555555", "titleColor": "#555555"}}}},
       {"mark": {"type": "bar", "stroke": "#4a4a4a", "strokeWidth": 1.3},
        "encoding": {
         "x": {"field": "segment", "type": "nominal", "scale": {"domain": ["Direct", "Online TA", "Offline TA/TO", "Complementary", "Corporate", "Groups", "Undefined", "Aviation"], "range": [36, 682], "paddingInner": 0, "paddingOuter": 0},
               "axis": {"orient": "bottom", "title": null, "labels": false, "domain": true, "domainColor": "#d0d0d0", "offset": -10, "grid": false}},
         "xOffset": {"field": "hotel", "scale": {"domain": ["Resort Hotel", "City Hotel"], "paddingInner": 0, "paddingOuter": 0.25}},
         "y": {"field": "q1", "type": "quantitative", "title": "stays_in_week_nights", "scale": {"domain": [-1.93, 34.32], "range": [338, 0], "nice": false, "zero": false},
               "axis": {"orient": "left", "title": "stays_in_week_nights", "titleFontSize": 8.6, "titlePadding": 5, "titleY": 130, "values": [0, 10, 20, 30], "labelFontSize": 8, "offset": -36, "labelPadding": 7, "grid": true, "gridColor": "#e2e2e2", "domain": true, "domainColor": "#d0d0d0", "labelColor": "#555555", "titleColor": "#555555"}},
         "y2": {"field": "q3"},
         "color": {"field": "hotel", "type": "nominal", "scale": {"domain": ["Resort Hotel", "City Hotel"], "range": ["#ca3435", "#467ca8"]}, "legend": null}}},
       {"mark": {"type": "tick", "color": "#4a4a4a", "thickness": 1.5, "size": 32},
        "encoding": {
         "x": {"field": "segment", "type": "nominal", "scale": {"domain": ["Direct", "Online TA", "Offline TA/TO", "Complementary", "Corporate", "Groups", "Undefined", "Aviation"], "range": [36, 682], "paddingInner": 0, "paddingOuter": 0},
               "axis": {"orient": "bottom", "title": null, "labels": false, "domain": true, "domainColor": "#d0d0d0", "offset": -10, "grid": false}},
         "xOffset": {"field": "hotel", "scale": {"domain": ["Resort Hotel", "City Hotel"], "paddingInner": 0, "paddingOuter": 0.25}},
         "y": {"field": "median", "type": "quantitative", "title": "stays_in_week_nights", "scale": {"domain": [-1.93, 34.32], "range": [338, 0], "nice": false, "zero": false},
               "axis": {"orient": "left", "title": "stays_in_week_nights", "titleFontSize": 8.6, "titlePadding": 5, "titleY": 130, "values": [0, 10, 20, 30], "labelFontSize": 8, "offset": -36, "labelPadding": 7, "grid": true, "gridColor": "#e2e2e2", "domain": true, "domainColor": "#d0d0d0", "labelColor": "#555555", "titleColor": "#555555"}}}}
      ]},
     {"data": {"values": [
        {"segment": "Direct", "hotel": "Resort Hotel", "nights": 32}, {"segment": "Direct", "hotel": "Resort Hotel", "nights": 25},
        {"segment": "Direct", "hotel": "Resort Hotel", "nights": 21}, {"segment": "Direct", "hotel": "Resort Hotel", "nights": 20},
        {"segment": "Direct", "hotel": "Resort Hotel", "nights": 19}, {"segment": "Direct", "hotel": "Resort Hotel", "nights": 16},
        {"segment": "Direct", "hotel": "Resort Hotel", "nights": 15}, {"segment": "Direct", "hotel": "Resort Hotel", "nights": 13},
        {"segment": "Direct", "hotel": "Resort Hotel", "nights": 12}, {"segment": "Direct", "hotel": "Resort Hotel", "nights": 11},
        {"segment": "Direct", "hotel": "Resort Hotel", "nights": 10}, {"segment": "Direct", "hotel": "Resort Hotel", "nights": 9},
        {"segment": "Direct", "hotel": "City Hotel", "nights": 24}, {"segment": "Direct", "hotel": "City Hotel", "nights": 22},
        {"segment": "Direct", "hotel": "City Hotel", "nights": 21}, {"segment": "Direct", "hotel": "City Hotel", "nights": 19},
        {"segment": "Direct", "hotel": "City Hotel", "nights": 15}, {"segment": "Direct", "hotel": "City Hotel", "nights": 14},
        {"segment": "Direct", "hotel": "City Hotel", "nights": 13}, {"segment": "Direct", "hotel": "City Hotel", "nights": 12},
        {"segment": "Direct", "hotel": "City Hotel", "nights": 11}, {"segment": "Direct", "hotel": "City Hotel", "nights": 10},
        {"segment": "Direct", "hotel": "City Hotel", "nights": 9}, {"segment": "Direct", "hotel": "City Hotel", "nights": 8},
        {"segment": "Direct", "hotel": "City Hotel", "nights": 7},
        {"segment": "Online TA", "hotel": "Resort Hotel", "nights": 33}, {"segment": "Online TA", "hotel": "Resort Hotel", "nights": 22},
        {"segment": "Online TA", "hotel": "Resort Hotel", "nights": 21}, {"segment": "Online TA", "hotel": "Resort Hotel", "nights": 20},
        {"segment": "Online TA", "hotel": "Resort Hotel", "nights": 19}, {"segment": "Online TA", "hotel": "Resort Hotel", "nights": 16},
        {"segment": "Online TA", "hotel": "Resort Hotel", "nights": 15}, {"segment": "Online TA", "hotel": "Resort Hotel", "nights": 13},
        {"segment": "Online TA", "hotel": "Resort Hotel", "nights": 12},
        {"segment": "Online TA", "hotel": "City Hotel", "nights": 34}, {"segment": "Online TA", "hotel": "City Hotel", "nights": 30},
        {"segment": "Online TA", "hotel": "City Hotel", "nights": 22}, {"segment": "Online TA", "hotel": "City Hotel", "nights": 21},
        {"segment": "Online TA", "hotel": "City Hotel", "nights": 20}, {"segment": "Online TA", "hotel": "City Hotel", "nights": 19},
        {"segment": "Online TA", "hotel": "City Hotel", "nights": 18}, {"segment": "Online TA", "hotel": "City Hotel", "nights": 17},
        {"segment": "Online TA", "hotel": "City Hotel", "nights": 16}, {"segment": "Online TA", "hotel": "City Hotel", "nights": 15},
        {"segment": "Online TA", "hotel": "City Hotel", "nights": 14}, {"segment": "Online TA", "hotel": "City Hotel", "nights": 13},
        {"segment": "Online TA", "hotel": "City Hotel", "nights": 12}, {"segment": "Online TA", "hotel": "City Hotel", "nights": 11},
        {"segment": "Online TA", "hotel": "City Hotel", "nights": 10}, {"segment": "Online TA", "hotel": "City Hotel", "nights": 9},
        {"segment": "Online TA", "hotel": "City Hotel", "nights": 8}, {"segment": "Online TA", "hotel": "City Hotel", "nights": 7},
        {"segment": "Offline TA/TO", "hotel": "Resort Hotel", "nights": 30}, {"segment": "Offline TA/TO", "hotel": "Resort Hotel", "nights": 25},
        {"segment": "Offline TA/TO", "hotel": "Resort Hotel", "nights": 21}, {"segment": "Offline TA/TO", "hotel": "Resort Hotel", "nights": 20},
        {"segment": "Offline TA/TO", "hotel": "Resort Hotel", "nights": 19}, {"segment": "Offline TA/TO", "hotel": "Resort Hotel", "nights": 15},
        {"segment": "Offline TA/TO", "hotel": "Resort Hotel", "nights": 14}, {"segment": "Offline TA/TO", "hotel": "Resort Hotel", "nights": 13},
        {"segment": "Offline TA/TO", "hotel": "Resort Hotel", "nights": 12}, {"segment": "Offline TA/TO", "hotel": "Resort Hotel", "nights": 11},
        {"segment": "Offline TA/TO", "hotel": "Resort Hotel", "nights": 10},
        {"segment": "Offline TA/TO", "hotel": "City Hotel", "nights": 13}, {"segment": "Offline TA/TO", "hotel": "City Hotel", "nights": 12},
        {"segment": "Offline TA/TO", "hotel": "City Hotel", "nights": 10}, {"segment": "Offline TA/TO", "hotel": "City Hotel", "nights": 9},
        {"segment": "Offline TA/TO", "hotel": "City Hotel", "nights": 8}, {"segment": "Offline TA/TO", "hotel": "City Hotel", "nights": 7},
        {"segment": "Complementary", "hotel": "Resort Hotel", "nights": 21}, {"segment": "Complementary", "hotel": "Resort Hotel", "nights": 8},
        {"segment": "Complementary", "hotel": "Resort Hotel", "nights": 6}, {"segment": "Complementary", "hotel": "Resort Hotel", "nights": 5},
        {"segment": "Complementary", "hotel": "Resort Hotel", "nights": 4},
        {"segment": "Complementary", "hotel": "City Hotel", "nights": 10}, {"segment": "Complementary", "hotel": "City Hotel", "nights": 7},
        {"segment": "Complementary", "hotel": "City Hotel", "nights": 5}, {"segment": "Complementary", "hotel": "City Hotel", "nights": 4},
        {"segment": "Complementary", "hotel": "City Hotel", "nights": 3}, {"segment": "Complementary", "hotel": "City Hotel", "nights": 2},
        {"segment": "Complementary", "hotel": "City Hotel", "nights": 0},
        {"segment": "Corporate", "hotel": "Resort Hotel", "nights": 24}, {"segment": "Corporate", "hotel": "Resort Hotel", "nights": 15},
        {"segment": "Corporate", "hotel": "Resort Hotel", "nights": 14}, {"segment": "Corporate", "hotel": "Resort Hotel", "nights": 11},
        {"segment": "Corporate", "hotel": "Resort Hotel", "nights": 10}, {"segment": "Corporate", "hotel": "Resort Hotel", "nights": 9},
        {"segment": "Corporate", "hotel": "Resort Hotel", "nights": 8}, {"segment": "Corporate", "hotel": "Resort Hotel", "nights": 7},
        {"segment": "Corporate", "hotel": "Resort Hotel", "nights": 6}, {"segment": "Corporate", "hotel": "Resort Hotel", "nights": 5},
        {"segment": "Corporate", "hotel": "Resort Hotel", "nights": 4},
        {"segment": "Corporate", "hotel": "City Hotel", "nights": 25}, {"segment": "Corporate", "hotel": "City Hotel", "nights": 18},
        {"segment": "Corporate", "hotel": "City Hotel", "nights": 17}, {"segment": "Corporate", "hotel": "City Hotel", "nights": 16},
        {"segment": "Corporate", "hotel": "City Hotel", "nights": 15}, {"segment": "Corporate", "hotel": "City Hotel", "nights": 13},
        {"segment": "Corporate", "hotel": "City Hotel", "nights": 10}, {"segment": "Corporate", "hotel": "City Hotel", "nights": 9},
        {"segment": "Corporate", "hotel": "City Hotel", "nights": 7}, {"segment": "Corporate", "hotel": "City Hotel", "nights": 6},
        {"segment": "Corporate", "hotel": "City Hotel", "nights": 5}, {"segment": "Corporate", "hotel": "City Hotel", "nights": 4},
        {"segment": "Groups", "hotel": "Resort Hotel", "nights": 26}, {"segment": "Groups", "hotel": "Resort Hotel", "nights": 19},
        {"segment": "Groups", "hotel": "Resort Hotel", "nights": 16}, {"segment": "Groups", "hotel": "Resort Hotel", "nights": 15},
        {"segment": "Groups", "hotel": "Resort Hotel", "nights": 14}, {"segment": "Groups", "hotel": "Resort Hotel", "nights": 12},
        {"segment": "Groups", "hotel": "Resort Hotel", "nights": 11}, {"segment": "Groups", "hotel": "Resort Hotel", "nights": 10},
        {"segment": "Groups", "hotel": "Resort Hotel", "nights": 9},
        {"segment": "Groups", "hotel": "City Hotel", "nights": 7}, {"segment": "Groups", "hotel": "City Hotel", "nights": 6},
        {"segment": "Groups", "hotel": "City Hotel", "nights": 5}, {"segment": "Groups", "hotel": "City Hotel", "nights": 4},
        {"segment": "Aviation", "hotel": "City Hotel", "nights": 11}, {"segment": "Aviation", "hotel": "City Hotel", "nights": 10},
        {"segment": "Aviation", "hotel": "City Hotel", "nights": 9}, {"segment": "Aviation", "hotel": "City Hotel", "nights": 8}]},
      "mark": {"type": "point", "shape": "M0,-1L0.6,0L0,1L-0.6,0Z", "filled": true, "color": "#3d3d3d", "size": 32, "opacity": 1},
      "encoding": {
       "x": {"field": "segment", "type": "nominal", "scale": {"domain": ["Direct", "Online TA", "Offline TA/TO", "Complementary", "Corporate", "Groups", "Undefined", "Aviation"], "range": [36, 682], "paddingInner": 0, "paddingOuter": 0},
             "axis": {"orient": "bottom", "title": null, "labels": false, "domain": true, "domainColor": "#d0d0d0", "offset": -10, "grid": false}},
       "xOffset": {"field": "hotel", "scale": {"domain": ["Resort Hotel", "City Hotel"], "paddingInner": 0, "paddingOuter": 0.25}},
       "y": {"field": "nights", "type": "quantitative", "title": "stays_in_week_nights", "scale": {"domain": [-1.93, 34.32], "range": [338, 0], "nice": false, "zero": false},
             "axis": {"orient": "left", "title": "stays_in_week_nights", "titleFontSize": 8.6, "titlePadding": 5, "titleY": 130, "values": [0, 10, 20, 30], "labelFontSize": 8, "offset": -36, "labelPadding": 7, "grid": true, "gridColor": "#e2e2e2", "domain": true, "domainColor": "#d0d0d0", "labelColor": "#555555", "titleColor": "#555555"}}
      }}
    ]
   },
   {"width": 1, "height": 348, "data": {"values": []}, "mark": "point"},
   {
    "width": 517, "height": 348,
    "view": {"fill": "white"},
    "resolve": {"scale": {"x": "independent", "y": "independent"}},
    "layer": [
     {"data": {"values": [{"a": 0, "b": 1}]}, "mark": {"type": "rect", "color": "#eaeaf2"},
      "encoding": {"x": {"field": "a", "type": "quantitative", "scale": {"domain": [0, 1], "range": [47.8, 517]}, "axis": null}, "x2": {"field": "b"},
                   "y": {"field": "a", "type": "quantitative", "scale": {"domain": [0, 1], "range": [270, 0]}, "axis": null}, "y2": {"field": "b"}}},
     {"data": {"values": [{"m": "January"}, {"m": "February"}, {"m": "March"}, {"m": "April"}, {"m": "May"}, {"m": "June"}, {"m": "July"}, {"m": "August"}, {"m": "September"}, {"m": "October"}, {"m": "November"}, {"m": "December"}]},
      "mark": {"type": "rule", "color": "white", "strokeWidth": 1},
      "encoding": {"x": {"field": "m", "type": "ordinal", "scale": {"type": "point", "domain": ["January", "February", "March", "April", "May", "June", "July", "August", "September", "October", "November", "December"], "range": [47.8, 517], "padding": 0.408, "align": 0.654}, "axis": null},
                   "y": {"datum": 0, "type": "quantitative", "scale": {"domain": [0, 1], "range": [270, 0]}, "axis": null}, "y2": {"datum": 1}}},
     {"data": {"values": [{"v": 20}, {"v": 40}, {"v": 60}, {"v": 80}, {"v": 100}]},
      "mark": {"type": "rule", "color": "white", "strokeWidth": 1},
      "encoding": {"y": {"field": "v", "type": "quantitative", "scale": {"domain": [6.81, 105.75], "range": [270, 0], "nice": false, "zero": false}, "axis": null},
                   "x": {"datum": 0, "type": "quantitative", "scale": {"domain": [0, 1], "range": [47.8, 517]}, "axis": null}, "x2": {"datum": 1}}},
     {"data": {"values": [
        {"month": "January", "hotel": "City Hotel", "price": 51.6, "lo": 30.6, "hi": 72.8},
        {"month": "February", "hotel": "City Hotel", "price": 51.4, "lo": 30.0, "hi": 72.6},
        {"month": "March", "hotel": "City Hotel", "price": 53.0, "lo": 29.0, "hi": 76.5},
        {"month": "April", "hotel": "City Hotel", "price": 59.3, "lo": 35.1, "hi": 83.1},
        {"month": "May", "hotel": "City Hotel", "price": 70.7, "lo": 37.8, "hi": 103.3},
        {"month": "June", "hotel": "City Hotel", "price": 66.8, "lo": 38.9, "hi": 94.1},
        {"month": "July", "hotel": "City Hotel", "price": 57.9, "lo": 34.0, "hi": 81.5},
        {"month": "August", "hotel": "City Hotel", "price": 58.0, "lo": 34.3, "hi": 81.5},
        {"month": "September", "hotel": "City Hotel", "price": 67.6, "lo": 32.6, "hi": 102.4},
        {"month": "October", "hotel": "City Hotel", "price": 62.1, "lo": 31.8, "hi": 92.3},
        {"month": "November", "hotel": "City Hotel", "price": 57.7, "lo": 27.2, "hi": 88.3},
        {"month": "December", "hotel": "City Hotel", "price": 48.1, "lo": 26.0, "hi": 69.9},
        {"month": "January", "hotel": "Resort Hotel", "price": 31.3, "lo": 17.8, "hi": 44.7},
        {"month": "February", "hotel": "Resort Hotel", "price": 31.2, "lo": 19.0, "hi": 43.2},
        {"month": "March", "hotel": "Resort Hotel", "price": 34.3, "lo": 19.3, "hi": 49.3},
        {"month": "April", "hotel": "Resort Hotel", "price": 44.2, "lo": 25.0, "hi": 62.9},
        {"month": "May", "hotel": "Resort Hotel", "price": 42.8, "lo": 24.0, "hi": 61.2},
        {"month": "June", "hotel": "Resort Hotel", "price": 56.9, "lo": 32.2, "hi": 81.3},
        {"month": "July", "hotel": "Resort Hotel", "price": 71.2, "lo": 43.1, "hi": 99.6},
        {"month": "August", "hotel": "Resort Hotel", "price": 84.1, "lo": 52.0, "hi": 113},
        {"month": "September", "hotel": "Resort Hotel", "price": 51.0, "lo": 29.6, "hi": 73.0},
        {"month": "October", "hotel": "Resort Hotel", "price": 35.5, "lo": 20.5, "hi": 50.4},
        {"month": "November", "hotel": "Resort Hotel", "price": 30.2, "lo": 16.9, "hi": 43.7},
        {"month": "December", "hotel": "Resort Hotel", "price": 37.9, "lo": 11.7, "hi": 64.2}]},
      "layer": [
       {"mark": {"type": "area", "opacity": 0.22, "clip": true},
        "encoding": {
         "x": {"field": "month", "type": "ordinal", "scale": {"type": "point", "domain": ["January", "February", "March", "April", "May", "June", "July", "August", "September", "October", "November", "December"], "range": [47.8, 517], "padding": 0.408, "align": 0.654},
               "axis": {"orient": "bottom", "title": "Month", "titleFontSize": 11.5, "titlePadding": 2, "labelAngle": -90, "labelFontSize": 10, "offset": -78, "labelPadding": 6, "grid": false}},
         "y": {"field": "lo", "type": "quantitative", "title": "Price [EUR]", "scale": {"domain": [6.81, 105.75], "range": [270, 0], "nice": false, "zero": false},
               "axis": {"orient": "left", "title": "Price [EUR]", "titleFontSize": 11, "titlePadding": 6, "titleY": 115, "values": [20, 40, 60, 80, 100], "labelFontSize": 10, "offset": -47.8, "labelPadding": 5, "grid": false}},
         "y2": {"field": "hi"},
         "color": {"field": "hotel", "type": "nominal", "scale": {"domain": ["City Hotel", "Resort Hotel"], "range": ["#1f77b4", "#ff7f0e"]}, "legend": null}}},
       {"mark": {"type": "line", "strokeWidth": 1.8, "clip": true},
        "encoding": {
         "x": {"field": "month", "type": "ordinal", "scale": {"type": "point", "domain": ["January", "February", "March", "April", "May", "June", "July", "August", "September", "October", "November", "December"], "range": [47.8, 517], "padding": 0.408, "align": 0.654},
               "axis": {"orient": "bottom", "title": "Month", "titleFontSize": 11.5, "titlePadding": 2, "labelAngle": -90, "labelFontSize": 10, "offset": -78, "labelPadding": 6, "grid": false}},
         "y": {"field": "price", "type": "quantitative", "title": "Price [EUR]", "scale": {"domain": [6.81, 105.75], "range": [270, 0], "nice": false, "zero": false},
               "axis": {"orient": "left", "title": "Price [EUR]", "titleFontSize": 11, "titlePadding": 6, "titleY": 115, "values": [20, 40, 60, 80, 100], "labelFontSize": 10, "offset": -47.8, "labelPadding": 5, "grid": false}},
         "color": {"field": "hotel", "type": "nominal", "scale": {"domain": ["City Hotel", "Resort Hotel"], "range": ["#1f77b4", "#ff7f0e"]}, "legend": null}}}
      ]}
    ]
   },
   {"width": 7, "height": 348, "data": {"values": []}, "mark": "point"}
  ]},
  {"width": 1695, "height": 67, "data": {"values": []}, "mark": "point"},
  {"width": 1695, "height": 17, "data": {"values": []}, "mark": "point", "view": {"fill": "white"}}
 ]},
 {"width": 17, "height": 974, "data": {"values": []}, "mark": "point", "view": {"fill": "white"}}
],
"config": {
 "view": {"stroke": null},
 "axis": {"ticks": false, "tickSize": 0, "domain": false, "labelFont": "DejaVu Sans", "titleFont": "DejaVu Sans", "titleFontWeight": "normal", "labelColor": "#3c3c3c", "titleColor": "#3c3c3c", "labelOverlap": false, "labelFlush": false, "minExtent": 0, "gridColor": "#ffffff"},
 "legend": {"labelFont": "DejaVu Sans", "titleFont": "DejaVu Sans", "titleFontWeight": "normal", "labelColor": "#3c3c3c", "titleColor": "#3c3c3c"},
 "title": {"font": "DejaVu Sans", "fontWeight": "normal", "color": "#3c3c3c"}
}
}
